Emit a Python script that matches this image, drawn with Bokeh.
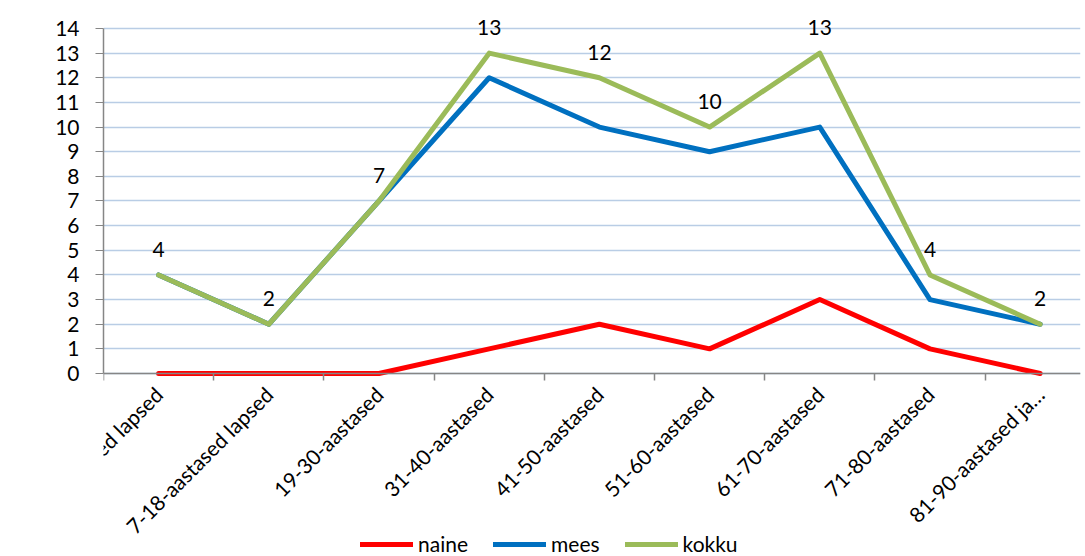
import math
from bokeh.plotting import figure
from bokeh.models import Range1d, FixedTicker, Legend, LegendItem, ColumnDataSource
from bokeh.core.properties import value
from bokeh.embed import file_html
from bokeh.resources import INLINE

categories = ["alla 7-aastased lapsed", "7-18-aastased lapsed", "19-30-aastased",
              "31-40-aastased", "41-50-aastased", "51-60-aastased", "61-70-aastased",
              "71-80-aastased", "81-90-aastased ja…"]
naine = [0, 0, 0, 1, 2, 1, 3, 1, 0]
mees = [4, 2, 7, 12, 10, 9, 10, 3, 2]
kokku = [4, 2, 7, 13, 12, 10, 13, 4, 2]
y_ticks = list(range(0, 15))

FONT = "Lato"
FS = "21px"
x = list(range(len(categories)))

# frame covers the whole window height; the x axis is pinned at y = 0
p = figure(frame_width=977, frame_height=556, output_backend="svg", toolbar_location=None,
           x_range=Range1d(-0.5, 8.366), y_range=Range1d(-7.426, 15.136),
           min_border_left=103, min_border_top=0, min_border_right=5, min_border_bottom=0)
p.outline_line_color = None
p.background_fill_color = "white"
p.border_fill_color = "white"

r1 = p.line(x, naine, line_color="#FF0000", line_width=5, line_join="round", line_cap="round")
r2 = p.line(x, mees, line_color="#0070C0", line_width=5, line_join="round", line_cap="round")
r3 = p.line(x, kokku, line_color="#9BBB59", line_width=5, line_join="round", line_cap="round")

src = ColumnDataSource(dict(x=x, y=kokku, t=[str(v) for v in kokku]))
p.text(x="x", y="y", text="t", source=src, text_align="center", text_baseline="bottom",
       y_offset=-18, text_font=value(FONT), text_font_size=FS, text_color="#000000")

# y axis
p.yaxis.ticker = FixedTicker(ticks=y_ticks)
p.yaxis.bounds = (0, 14)
p.yaxis.axis_line_color = "#868686"
p.yaxis.axis_line_width = 1.5
p.yaxis.major_tick_line_color = "#868686"
p.yaxis.major_tick_out = 8
p.yaxis.major_tick_in = 0
p.yaxis.minor_tick_line_color = None
p.yaxis.major_label_text_font = FONT
p.yaxis.major_label_text_font_size = FS
p.yaxis.major_label_text_color = "#000000"
p.yaxis.major_label_standoff = 16

# x axis, drawn at y = 0
p.xaxis.fixed_location = 0
p.xaxis.ticker = FixedTicker(ticks=x, minor_ticks=[i - 0.5 for i in x] + [len(x) - 0.5])
p.xaxis.major_label_overrides = {i: c for i, c in enumerate(categories)}
p.xaxis.major_label_orientation = math.pi / 4
p.xaxis.axis_line_color = "#868686"
p.xaxis.axis_line_width = 1.5
p.xaxis.major_tick_out = 0
p.xaxis.major_tick_in = 0
p.xaxis.minor_tick_line_color = "#868686"
p.xaxis.minor_tick_line_width = 1.5
p.xaxis.minor_tick_out = 7
p.xaxis.minor_tick_in = 0
p.xaxis.major_label_text_font = FONT
p.xaxis.major_label_text_font_size = FS
p.xaxis.major_label_text_color = "#000000"
p.xaxis.major_label_standoff = 10

p.xgrid.grid_line_color = None
p.ygrid.ticker = FixedTicker(ticks=y_ticks)
p.ygrid.grid_line_color = "#B9CDE5"
p.ygrid.grid_line_width = 1.5

legend = Legend(items=[LegendItem(label="naine", renderers=[r1]),
                       LegendItem(label="mees", renderers=[r2]),
                       LegendItem(label="kokku", renderers=[r3])],
                orientation="horizontal", location=(257, 0),
                glyph_width=53, glyph_height=22, label_height=22, label_standoff=5, spacing=25,
                padding=0, margin=0, border_line_color=None, background_fill_alpha=0,
                label_text_font=FONT, label_text_font_size=FS, label_text_color="#000000")
p.add_layout(legend, "center")

open("out.html", "w").write(file_html(p, INLINE))
